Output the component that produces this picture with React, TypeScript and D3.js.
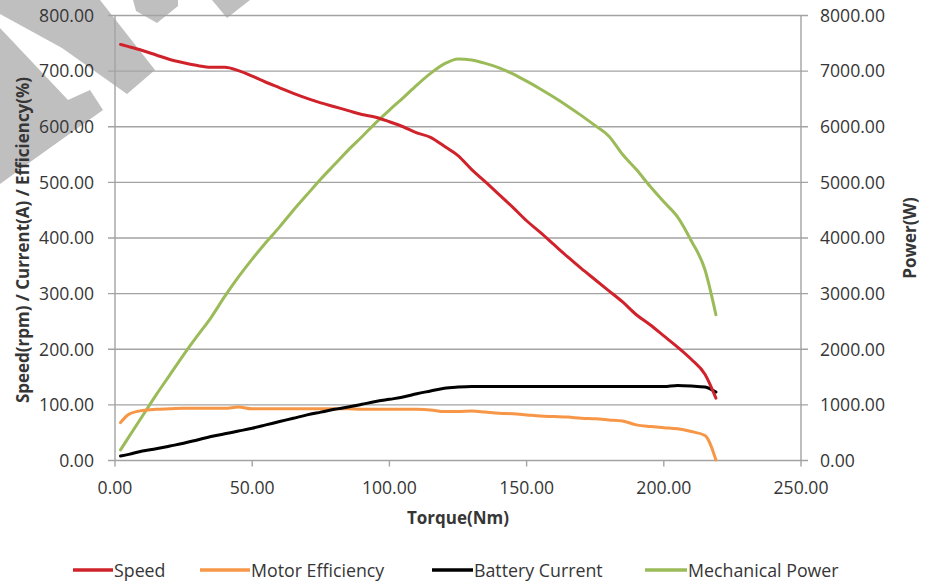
import React from "react";
import * as d3 from "d3";

const torque = [2, 5, 10, 15, 20, 25, 30, 35, 40, 45, 50, 55, 60, 65, 70, 75, 80, 85, 90, 95, 100, 105, 110, 115, 120, 125, 130, 135, 140, 145, 150, 155, 160, 165, 170, 175, 180, 185, 190, 195, 200, 205, 210, 215, 219];
const speed = [748, 744, 737, 729, 721, 715, 710, 707, 707, 701, 691, 680, 670, 660, 651, 643, 636, 629, 622, 617, 609, 600, 589, 581, 565, 548, 523, 501, 478, 455, 431, 410, 388, 366, 345, 325, 305, 285, 262, 244, 224, 204, 182, 155, 112];
const efficiency = [68, 83, 90, 92, 93, 94, 94, 94, 94, 96, 93, 93, 93, 93, 93, 93, 93, 93, 92, 92, 92, 92, 92, 91, 88, 88, 89, 87, 85, 84, 82, 80, 79, 78, 76, 75, 73, 71, 64, 61, 59, 57, 52, 45, 1];
const current = [8, 11, 17, 21, 26, 31, 37, 43, 48, 53, 58, 64, 70, 76, 82, 87, 92, 96, 101, 106, 110, 114, 120, 125, 130, 132, 133, 133, 133, 133, 133, 133, 133, 133, 133, 133, 133, 133, 133, 133, 133, 135, 134, 132, 123];
const power = [190, 420, 800, 1180, 1540, 1900, 2240, 2570, 2950, 3300, 3620, 3920, 4200, 4500, 4780, 5060, 5320, 5580, 5820, 6070, 6300, 6520, 6750, 6960, 7130, 7220, 7200, 7140, 7060, 6950, 6820, 6680, 6530, 6370, 6200, 6020, 5830, 5500, 5230, 4930, 4650, 4380, 3950, 3430, 2620];

const xTicks = [0, 50, 100, 150, 200, 250];
const leftTicks = [0, 100, 200, 300, 400, 500, 600, 700, 800];
const rightTicks = [0, 1000, 2000, 3000, 4000, 5000, 6000, 7000, 8000];

const seriesNames = ["Speed", "Motor Efficiency", "Battery Current", "Mechanical Power"];
const xTitle = "Torque(Nm)";
const leftTitle = "Speed(rpm) / Current(A) / Efficiency(%)";
const rightTitle = "Power(W)";

const W = 933;
const H = 582;
const FONT = "'Open Sans', 'DejaVu Sans', sans-serif";
const TXT = "#363636";
const GRID = "#a3a3a3";

const watermark: [number, number][][] = [
  [[0, 0], [100, 0], [155, 70], [127, 94], [62, 48], [0, 14]],
  [[0, 28], [68, 100], [90, 90], [103, 110], [33, 160], [0, 184]],
  [[133, 0], [178, 0], [178, 6], [157, 23], [136, 11]],
  [[212, 0], [250, 0], [227, 18]],
];

export default function App() {
  const x = d3.scaleLinear().domain([0, 250]).range([115, 801]);
  const yL = d3.scaleLinear().domain([0, 800]).range([460.5, 15.5]);
  const yR = d3.scaleLinear().domain([0, 8000]).range([460.5, 15.5]);
  const fmt = d3.format(".2f");

  const mk = (vals: number[], y: d3.ScaleLinear<number, number>, curve: d3.CurveFactory) =>
    d3
      .line<number>()
      .x((_, i) => x(torque[i]))
      .y((v) => y(v))
      .curve(curve)(vals) || "";

  const series = [
    { name: seriesNames[0], d: mk(speed, yL, d3.curveMonotoneX), color: "#d0222b" },
    { name: seriesNames[1], d: mk(efficiency, yL, d3.curveMonotoneX), color: "#f79646" },
    { name: seriesNames[2], d: mk(current, yL, d3.curveMonotoneX), color: "#000000" },
    { name: seriesNames[3], d: mk(power, yR, d3.curveMonotoneX), color: "#9bbb59" },
  ];
  const drawOrder = [3, 1, 2, 0];

  const legendX = [73, 200, 432, 645];
  const legendLen = [40, 50, 41, 42];

  return (
    <div style={{ position: "absolute", left: 0, top: 0 }}>
      <svg width={W} height={H} style={{ display: "block", background: "#fff" }}>
        <g fill="#c0bfc0">
          {watermark.map((p, i) => (
            <polygon key={i} points={p.map((q) => q.join(",")).join(" ")} />
          ))}
        </g>
        {leftTicks.map((t) => (
          <line key={"g" + t} x1={108} x2={808} y1={yL(t)} y2={yL(t)} stroke={GRID} strokeWidth={1.4} />
        ))}
        <line x1={x(0)} x2={x(0)} y1={yL(800)} y2={yL(0)} stroke={GRID} strokeWidth={1.4} />
        <line x1={x(250)} x2={x(250)} y1={yL(800)} y2={yL(0)} stroke={GRID} strokeWidth={1.4} />
        {xTicks.map((t) => (
          <line key={"xt" + t} x1={x(t)} x2={x(t)} y1={yL(0)} y2={yL(0) + 6} stroke={GRID} strokeWidth={1.4} />
        ))}
        {leftTicks.map((t) => (
          <text key={"l" + t} x={94} y={yL(t)} dy="0.36em" textAnchor="end" fontFamily={FONT} fontSize={17.6} fill={TXT}>
            {fmt(t)}
          </text>
        ))}
        {rightTicks.map((t) => (
          <text key={"r" + t} x={820} y={yR(t)} dy="0.36em" textAnchor="start" fontFamily={FONT} fontSize={17.6} fill={TXT}>
            {fmt(t)}
          </text>
        ))}
        {xTicks.map((t) => (
          <text key={"x" + t} x={x(t)} y={488} dy="0.36em" textAnchor="middle" fontFamily={FONT} fontSize={17.6} fill={TXT}>
            {fmt(t)}
          </text>
        ))}
        <text x={458} y={518} dy="0.36em" textAnchor="middle" fontFamily={FONT} fontSize={17} fontWeight="bold" fill={TXT}>
          {xTitle}
        </text>
        <text
          transform={`translate(23,240) rotate(-90)`}
          dy="0.36em"
          textAnchor="middle"
          fontFamily={FONT}
          fontSize={17}
          fontWeight="bold"
          fill={TXT}
          textLength={326}
          lengthAdjust="spacingAndGlyphs"
        >
          {leftTitle}
        </text>
        <text
          transform={`translate(910,238) rotate(-90)`}
          dy="0.36em"
          textAnchor="middle"
          fontFamily={FONT}
          fontSize={17}
          fontWeight="bold"
          fill={TXT}
        >
          {rightTitle}
        </text>
        {drawOrder.map((i) => (
          <path key={series[i].name} d={series[i].d} fill="none" stroke={series[i].color} strokeWidth={3} strokeLinejoin="round" strokeLinecap="round" />
        ))}
        {series.map((s, i) => (
          <g key={"lg" + i}>
            <line x1={legendX[i]} x2={legendX[i] + legendLen[i]} y1={570} y2={570} stroke={s.color} strokeWidth={3.5} />
            <text x={legendX[i] + legendLen[i] + 1} y={571} dy="0.36em" fontFamily={FONT} fontSize={17.8} fill={TXT}>
              {s.name}
            </text>
          </g>
        ))}
      </svg>
    </div>
  );
}
